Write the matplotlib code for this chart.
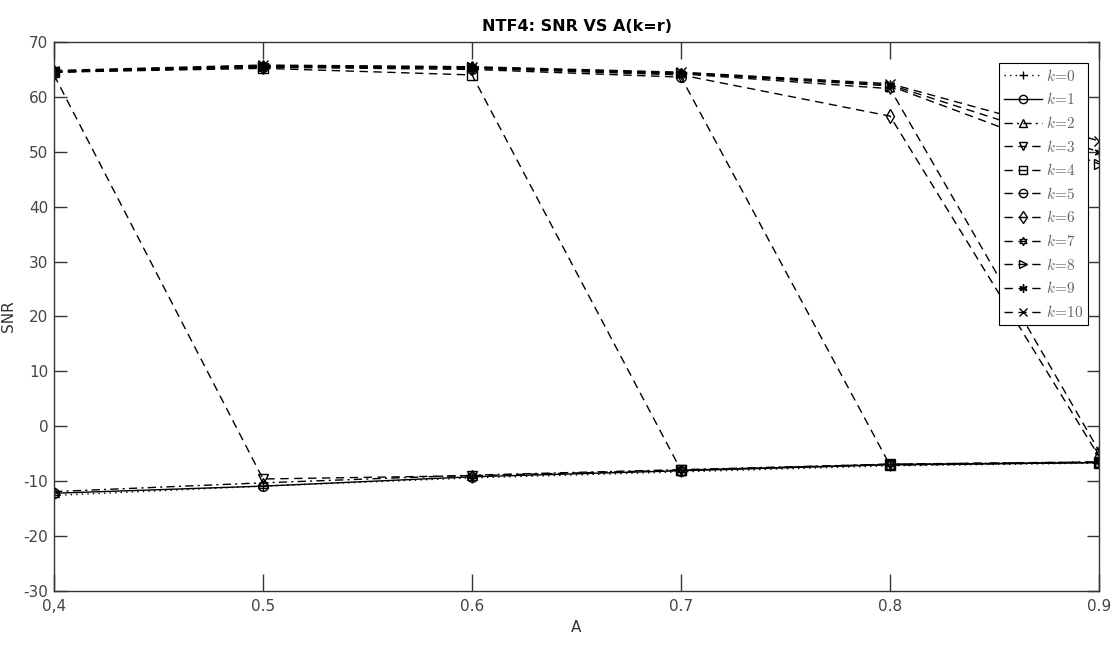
import matplotlib
matplotlib.use("Agg")
import matplotlib.pyplot as plt

plt.rcParams['font.family'] = ['DejaVu Sans']
plt.rcParams['mathtext.fontset'] = 'cm'
plt.rcParams['axes.unicode_minus'] = False

# ---- data ----
A = [0.4, 0.5, 0.6, 0.7, 0.8, 0.9]
xtick_labels = ["0,4", "0.5", "0.6", "0.7", "0.8", "0.9"]
yticks = [-30, -20, -10, 0, 10, 20, 30, 40, 50, 60, 70]

snr_k0 = [-12.6, -10.9, -9.4, -8.3, -7.2, -6.7]
snr_k1 = [-12.2, -10.9, -9.2, -8.1, -7.0, -6.6]
snr_k2 = [-11.9, -10.3, -8.9, -7.9, -6.9, -6.5]
snr_k3 = [64.0, -9.6, -9.0, -8.0, -6.9, -6.5]
snr_k4 = [64.5, 65.2, 64.0, -8.0, -7.0, -6.6]
snr_k5 = [64.6, 65.4, 65.0, 63.6, -7.1, -6.6]
snr_k6 = [64.5, 65.5, 65.2, 64.0, 56.5, -5.5]
snr_k7 = [64.6, 65.5, 65.3, 64.2, 61.5, -4.5]
snr_k8 = [64.5, 65.6, 65.4, 64.3, 62.0, 47.8]
snr_k9 = [64.7, 65.7, 65.4, 64.4, 62.2, 50.0]
snr_k10 = [64.8, 65.8, 65.5, 64.5, 62.4, 52.0]

series = [snr_k0, snr_k1, snr_k2, snr_k3, snr_k4, snr_k5,
          snr_k6, snr_k7, snr_k8, snr_k9, snr_k10]
labels = [r'$k\!=\!%d$' % i for i in range(11)]

styles = [(0, (1, 3)), '-', (0, (6, 3, 1.5, 3))] + [(0, (6, 4))] * 8
markers = ['+', 'o', '^', 'v', 's', 'o', 'd', (6, 1, 0), '>', (6, 2, 0), 'x']

fig = plt.figure(figsize=(11.16, 6.51), dpi=100)
ax = fig.add_axes([0.0484, 0.0922, 0.9364, 0.8433])

for s, ls, mk, lab in zip(series, styles, markers, labels):
    ax.plot(A, s, linestyle=ls, marker=mk, color='black', linewidth=1.0,
            markersize=7, markerfacecolor='none', markeredgecolor='black',
            markeredgewidth=1.0, label=lab)

ax.set_xlim(0.4, 0.9)
ax.set_ylim(-30, 70)
ax.set_xticks(A)
ax.set_xticklabels(xtick_labels)
ax.set_yticks(yticks)

ax.tick_params(axis='both', direction='in', top=True, right=True,
               labelsize=11, labelcolor='#444444', color='#333333', width=1.0)
ax.tick_params(axis='x', length=12, pad=6)
ax.tick_params(axis='y', length=9, pad=4)
for sp in ax.spines.values():
    sp.set_color('#333333')
    sp.set_linewidth(1.0)

ax.set_title('NTF4: SNR VS A(k=r)', fontsize=11.5, fontweight='bold', pad=8)
ax.set_xlabel('A', fontsize=11, color='#333333')
ax.set_ylabel('SNR', fontsize=11, color='#333333')
ax.yaxis.set_label_coords(-0.036, 0.5)

leg = ax.legend(loc='upper right', bbox_to_anchor=(0.9895, 0.9617),
                borderaxespad=0, fancybox=False, framealpha=1,
                edgecolor='black', fontsize=11, handlelength=2.5,
                labelspacing=0.5, handletextpad=0.25, borderpad=0.3,
                markerscale=0.85)
leg.get_frame().set_linewidth(0.8)
for t in leg.get_texts():
    t.set_color('#666666')

fig.savefig('out.png', dpi=100)
